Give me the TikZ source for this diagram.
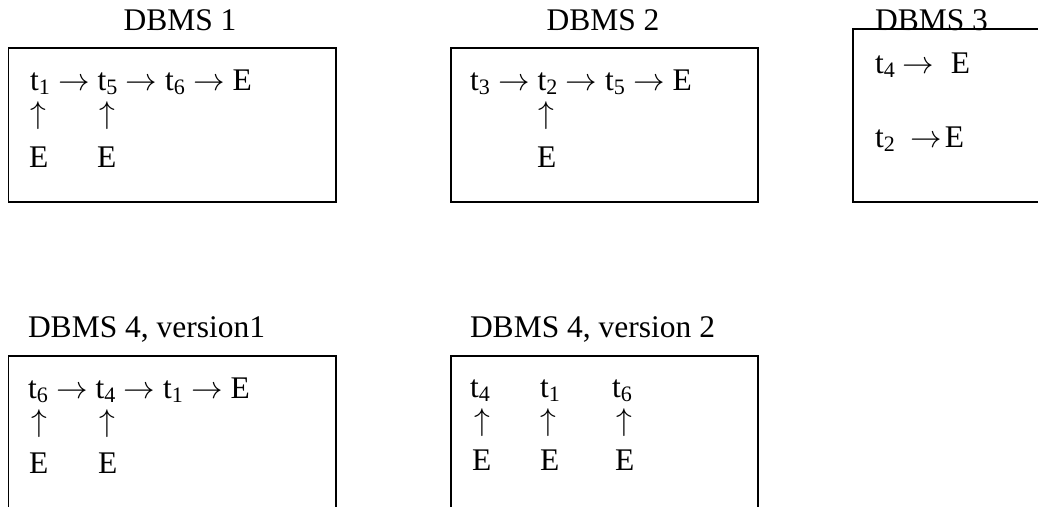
\RequirePackage{fix-cm}
\documentclass[tikz,border=0pt]{standalone}
\usepackage{fontspec}
\setmainfont{Liberation Serif}
\newcommand\tsb[1]{t\textsubscript{#1}}
\newcommand\ra{$\rightarrow$}
\newcommand\ua{$\uparrow$}
\begin{document}
\begin{tikzpicture}[x=1pt,y=-1pt,
  every node/.style={inner sep=0pt, outer sep=0pt, font=\fontsize{31.5}{38}\selectfont},
  txt/.style={anchor=base west},
  ttl/.style={anchor=base},
  uparr/.style={anchor=center},
  box/.style={draw=black, line width=1.3pt}]
\useasboundingbox (0,0) rectangle (1038,506);
\clip (0,0) rectangle (1038,506);
% boxes
\draw[box] (8.5,48) rectangle (336,202);
\draw[box] (451,48) rectangle (758,202);
\draw[box] (853,29) rectangle (1060,202);
\draw[box] (8.5,356) rectangle (336,530);
\draw[box] (451,356) rectangle (758,530);
% titles
\node[ttl] (t1) at (180,30) {DBMS 1};
\node[ttl] (t2) at (603,30) {DBMS 2};
\node[txt] (t3) at (875,30) {DBMS 3};
\node[txt] (t4) at (28,337) {DBMS 4, version1};
\node[txt] (t5) at (470,337) {DBMS 4, version 2};
% DBMS 1
\node[txt] (a1) at (30,90) {\tsb{1} \ra\ \tsb{5} \ra\ \tsb{6} \ra\ E};
\node[uparr] (a2) at (38,116) {\ua};
\node[uparr] (a3) at (107,116) {\ua};
\node[txt] (a4) at (29,167) {E};
\node[txt] (a5) at (97,167) {E};
% DBMS 2
\node[txt] (b1) at (470,90) {\tsb{3} \ra\ \tsb{2} \ra\ \tsb{5} \ra\ E};
\node[uparr] (b2) at (546,116) {\ua};
\node[txt] (b3) at (537,167) {E};
% DBMS 3
\node[txt] (c1) at (875,73) {\tsb{4}\hspace{7pt}\ra\hspace{17pt}E};
\node[txt] (c2) at (875,147) {\tsb{2}\hspace{15pt}\ra\hspace{3pt}E};
% DBMS 4 v1
\node[txt] (d1) at (28,398) {\tsb{6} \ra\ \tsb{4} \ra\ \tsb{1} \ra\ E};
\node[uparr] (d2) at (39,424) {\ua};
\node[uparr] (d3) at (107,424) {\ua};
\node[txt] (d4) at (29,473) {E};
\node[txt] (d5) at (98,473) {E};
% DBMS 4 v2
\node[txt] (e1) at (470,397) {\tsb{4}};
\node[txt] (e2) at (540,397) {\tsb{1}};
\node[txt] (e3) at (612,397) {\tsb{6}};
\node[uparr] (e4) at (482,423) {\ua};
\node[uparr] (e5) at (548,423) {\ua};
\node[uparr] (e6) at (624,423) {\ua};
\node[txt] (e7) at (472,470) {E};
\node[txt] (e8) at (540,470) {E};
\node[txt] (e9) at (615,470) {E};
\end{tikzpicture}
\end{document}
